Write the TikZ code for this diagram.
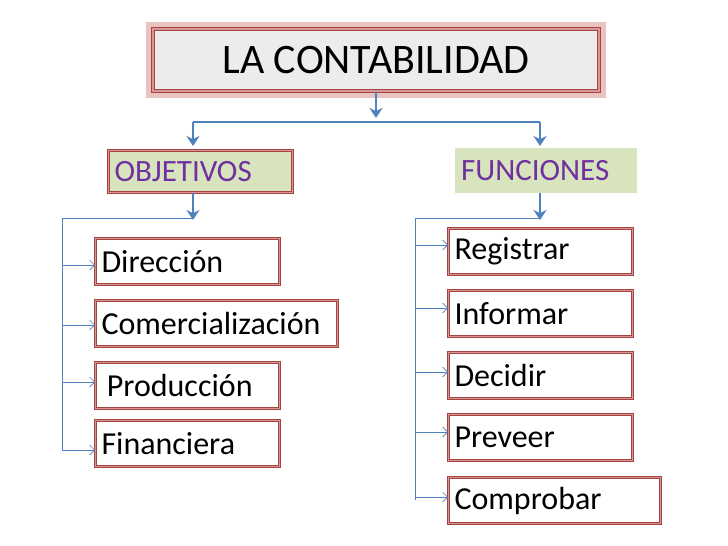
\documentclass[tikz,border=0pt]{standalone}
\usepackage{fontspec}
\setmainfont{Carlito}
\usetikzlibrary{arrows.meta}
\definecolor{bred}{RGB}{192,80,77}
\definecolor{bblue}{RGB}{79,129,189}
\definecolor{bgreen}{RGB}{215,228,189}
\definecolor{bpurple}{RGB}{112,48,160}
\tikzset{
 rbox/.style={draw=bred!85!black,double=bred!60,double distance=1.2pt,line width=1pt,fill=white,minimum height=46pt,inner sep=6pt,anchor=north west,font=\fontsize{32}{34}\selectfont,text width=#1,align=left},
 fat/.style={draw=bblue,line width=2.5pt,-{Stealth[length=10pt,width=13pt]}},
 thin/.style={draw=bblue,line width=0.7pt},
 thina/.style={thin,-{Straight Barb[length=5pt]}},
}
\begin{document}
\begin{tikzpicture}[x=1pt,y=-1pt]
\useasboundingbox (0,0) rectangle (728,546);
\fill[white] (0,0) rectangle (728,546);
\fill[bred!35] (146,22) rectangle (606,98);
\node[draw=bred!85!black,double=bred!60,double distance=1.5pt,line width=1.2pt,fill=gray!15,minimum width=446pt,minimum height=62pt,font=\fontsize{42}{44}\selectfont] (t) at (376,60) {LA CONTABILIDAD};
\node[rbox=172pt,fill=bgreen,minimum height=42pt,text=bpurple,font=\fontsize{31}{33}\selectfont] (obj) at (108,150) {OBJETIVOS};
\node[fill=bgreen,minimum width=182pt,minimum height=45pt,text=bpurple,font=\fontsize{31}{33}\selectfont,anchor=north west,text width=170pt,align=left,inner sep=6pt] (fun) at (455,148) {FUNCIONES};
\coordinate (b1) at (376,122);
\coordinate (bl) at (193,122);
\coordinate (br) at (540,122);
\draw[draw=bblue,line width=2.5pt] (bl) -- (br);
\draw[fat] (t.south -| b1) -- (376,118);
\draw[fat] (bl) -- (193,146);
\draw[fat] (br) -- (540,146);
% left
\node[rbox=172pt] (d) at (95,238) {Dirección};
\node[rbox=230pt] (c) at (95,300) {Comercialización};
\node[rbox=172pt] (p) at (95,362) {\,Producción};
\node[rbox=172pt] (f) at (95,420) {Financiera};
\coordinate (lt) at (193,218);
\draw[fat] (obj.south -| lt) -- (193,220);
\draw[thin] (lt) -- (62,218) -- (62,450);
\foreach \n/\y in {d/265,c/325,p/382,f/450}{
 \coordinate (a\n) at (62,\y);
 \draw[thina] (a\n) -- (\n.west |- a\n);
}
% right
\node[rbox=172pt] (r1) at (448,228) {Registrar};
\node[rbox=172pt] (r2) at (448,290) {Informar};
\node[rbox=172pt] (r3) at (448,352) {Decidir};
\node[rbox=172pt] (r4) at (448,414) {Preveer};
\node[rbox=200pt] (r5) at (448,477) {Comprobar};
\coordinate (rt) at (540,218);
\draw[fat] (fun.south -| rt) -- (540,220);
\draw[thin] (rt) -- (415,218) -- (415,500);
\foreach \n/\y in {r1/245,r2/308,r3/372,r4/432,r5/497}{
 \coordinate (a\n) at (415,\y);
 \draw[thina] (a\n) -- (\n.west |- a\n);
}
\end{tikzpicture}
\end{document}
